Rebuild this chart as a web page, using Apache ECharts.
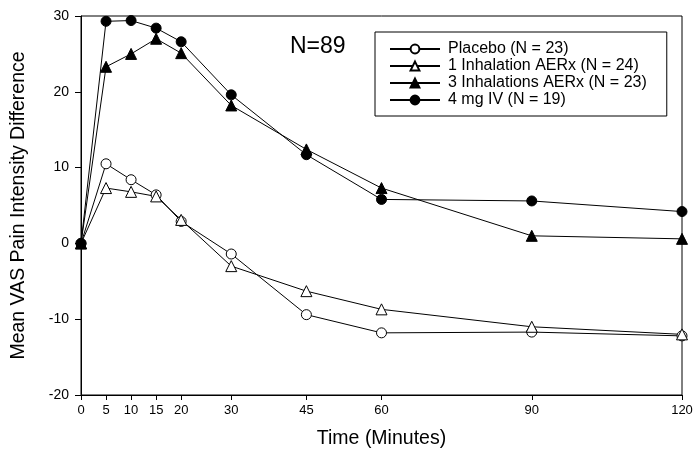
<!DOCTYPE html>
<html><head><meta charset="utf-8">
<script src="https://cdn.jsdelivr.net/npm/echarts@6/dist/echarts.min.js"></script>
<style>html,body{margin:0;padding:0;background:#fff}#c{width:696px;height:450px}</style>
</head><body><div id="c"></div>
<script>
const times = [0, 5, 10, 15, 20, 30, 45, 60, 90, 120];
const xTicks = [0, 5, 10, 15, 20, 30, 45, 60, 90, 120];
const yTicks = [-20, -10, 0, 10, 20, 30];
const seriesNames = ['Placebo (N = 23)', '1 Inhalation AERx (N = 24)', '3 Inhalations AERx (N = 23)', '4 mg IV (N = 19)'];
const placebo = [0, 10.5, 8.4, 6.4, 2.9, -1.4, -9.4, -11.8, -11.7, -12.2];
const inh1 = [0, 7.3, 6.8, 6.2, 3.1, -3.0, -6.3, -8.7, -11.0, -12.0];
const inh3 = [0, 23.3, 25.0, 27.0, 25.1, 18.2, 12.4, 7.3, 1.0, 0.6];
const iv4 = [0, 29.3, 29.4, 28.4, 26.6, 19.6, 11.7, 5.8, 5.6, 4.2];
const annotation = 'N=89';
const xTitle = 'Time (Minutes)';
const yTitle = 'Mean VAS Pain Intensity Difference';

const FONT = '"Liberation Sans", Arial, sans-serif';
const NARROW = '"Liberation Sans Narrow", "Liberation Sans", Arial, sans-serif';
const chart = echarts.init(document.getElementById('c'), null, {renderer: 'canvas'});

function mk(name, values, symbol, filled) {
  return {
    name: name,
    type: 'line',
    data: times.map((t, i) => [t, values[i]]),
    symbol: symbol,
    symbolSize: symbol === 'triangle' ? 11 : 10,
    showAllSymbol: true,
    clip: false,
    lineStyle: {color: '#000', width: 1},
    itemStyle: {color: filled ? '#000' : '#fff', borderColor: '#000', borderWidth: 1},
    emphasis: {disabled: true},
    animation: false
  };
}

chart.setOption({
  animation: false,
  backgroundColor: '#fff',
  grid: {left: 81, right: 14, top: 16, bottom: 55, outerBoundsMode: 'none', containLabel: false,
         show: true, borderColor: '#000', borderWidth: 1, backgroundColor: 'transparent'},
  xAxis: {
    type: 'value', min: 0, max: 120,
    name: xTitle, nameLocation: 'middle', nameGap: 34,
    nameTextStyle: {fontFamily: FONT, fontSize: 19.5, color: '#000'},
    axisLine: {show: true, onZero: false, lineStyle: {color: '#000', width: 1}},
    axisTick: {show: true, length: 5, customValues: xTicks, lineStyle: {color: '#000'}},
    axisLabel: {customValues: xTicks, fontFamily: NARROW, fontSize: 13, color: '#000', margin: 9},
    splitLine: {show: false}
  },
  yAxis: {
    type: 'value', min: -20, max: 30, interval: 10,
    name: yTitle, nameLocation: 'middle', nameGap: 52, nameRotate: 90,
    nameTextStyle: {fontFamily: FONT, fontSize: 19.5, color: '#000'},
    axisLine: {show: true, lineStyle: {color: '#000', width: 1}},
    axisTick: {show: true, length: 6, lineStyle: {color: '#000'}},
    axisLabel: {fontFamily: FONT, fontSize: 14, color: '#000', margin: 12},
    splitLine: {show: false}
  },
  legend: {
    orient: 'vertical', left: 375, top: 32,
    padding: [9, 20, 8, 14],
    borderColor: '#000', borderWidth: 1,
    itemWidth: 50, itemHeight: 11, itemGap: 1,
    textStyle: {fontFamily: FONT, fontSize: 16, lineHeight: 16, color: '#000', padding: [0, 0, 0, 3]},
    data: seriesNames
  },
  graphic: [{
    type: 'text', left: 290, top: 35,
    style: {text: annotation, font: '23px ' + FONT, fill: '#000'}
  }],
  series: [
    mk(seriesNames[0], placebo, 'circle', false),
    mk(seriesNames[1], inh1, 'triangle', false),
    mk(seriesNames[2], inh3, 'triangle', true),
    mk(seriesNames[3], iv4, 'circle', true)
  ]
});
</script></body></html>
